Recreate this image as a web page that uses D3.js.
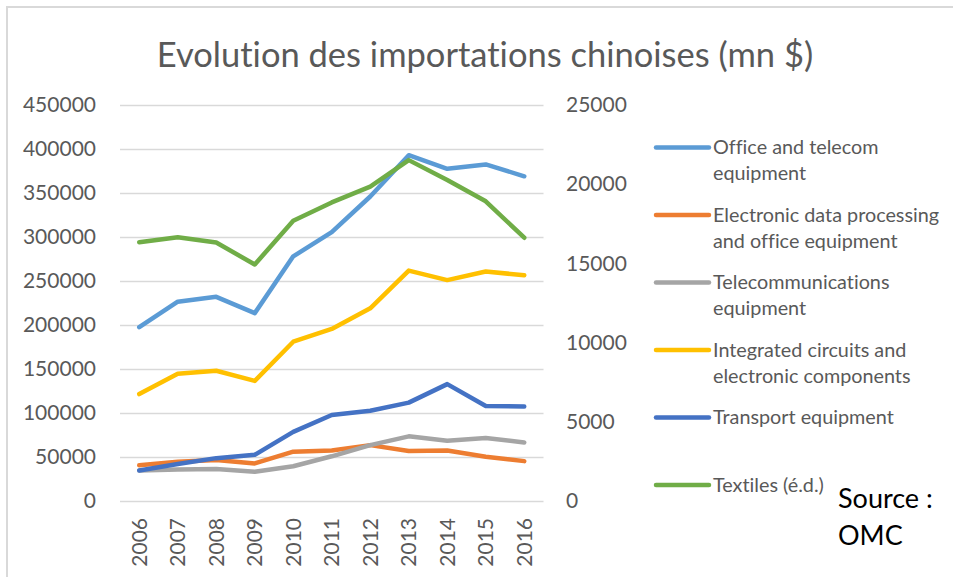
<!DOCTYPE html>
<html>
<head>
<meta charset="utf-8">
<script src="https://cdn.jsdelivr.net/npm/d3@7/dist/d3.min.js"></script>
<style>
  html, body { margin: 0; padding: 0; background: #fff; }
  svg { display: block; }
  text { font-family: Lato, "Open Sans", sans-serif; font-variant-ligatures: none; font-feature-settings: "liga" 0; }
</style>
</head>
<body>
<svg id="chart" width="953" height="577"></svg>
<script>
// Chinese imports by product group, millions of US$
const years = ["2006","2007","2008","2009","2010","2011","2012","2013","2014","2015","2016"];

const officeTelecom   = [197500, 226500, 232000, 213500, 278000, 305500, 346000, 393000, 377500, 382500, 369000];
const edpOffice       = [40500, 44500, 46500, 42700, 56000, 57500, 63500, 56800, 57300, 50300, 45300];
const telecomEquip    = [34800, 35800, 36400, 33300, 39500, 50800, 63500, 73500, 68500, 71500, 66600];
const integratedCirc  = [121500, 144500, 148000, 136500, 181000, 195500, 219000, 261800, 251000, 260800, 256500];
const transportEquip  = [34700, 42000, 48700, 52500, 78500, 97800, 102500, 111800, 132800, 108000, 107300];
// Textiles are read on the right-hand axis
const textiles        = [16340, 16650, 16320, 14930, 17690, 18850, 19850, 21520, 20260, 18920, 16620];

const leftTicks  = [0, 50000, 100000, 150000, 200000, 250000, 300000, 350000, 400000, 450000];
const rightTicks = [0, 5000, 10000, 15000, 20000, 25000];

const seriesNames = [
  ["Office and telecom", "equipment"],
  ["Electronic data processing", "and office equipment"],
  ["Telecommunications", "equipment"],
  ["Integrated circuits and", "electronic components"],
  ["Transport equipment"],
  ["Textiles (é.d.)"]
];

const title = "Evolution des importations chinoises (mn $)";
const sourceLines = ["Source :", "OMC"];

const series = [
  { values: officeTelecom,  color: "#5B9BD5", axis: "left" },
  { values: edpOffice,      color: "#ED7D31", axis: "left" },
  { values: telecomEquip,   color: "#A5A5A5", axis: "left" },
  { values: integratedCirc, color: "#FFC000", axis: "left" },
  { values: transportEquip, color: "#4472C4", axis: "left" },
  { values: textiles,       color: "#70AD47", axis: "right" }
];

const svg = d3.select("#chart");
const textColor = "#595959";

// outer frame (top and left edges)
svg.append("path")
  .attr("d", "M7,577 V7 H953")
  .attr("fill", "none")
  .attr("stroke", "#D9D9D9")
  .attr("stroke-width", 2);

const plot = { left: 120, right: 543.5, top: 105, bottom: 501 };

const x = d3.scaleBand()
  .domain(years)
  .range([plot.left, plot.right])
  .paddingInner(0)
  .paddingOuter(0);
const xc = d => x(d) + x.bandwidth() / 2;

const yL = d3.scaleLinear().domain([0, 450000]).range([plot.bottom, plot.top]);
const yR = d3.scaleLinear().domain([0, 25000]).range([plot.bottom, plot.top]);

// title
svg.append("text")
  .attr("x", 485)
  .attr("y", 67)
  .attr("text-anchor", "middle")
  .attr("fill", textColor)
  .style("font-size", "34.5px")
  .text(title);

// gridlines from the left axis
const grid = d3.axisLeft(yL)
  .tickValues(leftTicks)
  .tickSize(-(plot.right - plot.left))
  .tickFormat("");
svg.append("g")
  .attr("transform", `translate(${plot.left},0)`)
  .call(grid)
  .call(g => g.select(".domain").remove())
  .call(g => g.selectAll("line").attr("stroke", "#D9D9D9").attr("stroke-width", 1.5));

const axisFont = g => g.selectAll("text")
  .attr("fill", textColor)
  .style("font-size", "21px")
  .style("font-family", "Lato, sans-serif");

// left axis labels
const leftAxis = d3.axisLeft(yL)
  .tickValues(leftTicks)
  .tickSize(0)
  .tickPadding(0)
  .tickFormat(d3.format("d"));
svg.append("g")
  .attr("transform", "translate(96,0)")
  .call(leftAxis)
  .call(g => g.select(".domain").remove())
  .call(axisFont);

// right axis labels
const rightAxis = d3.axisRight(yR)
  .tickValues(rightTicks)
  .tickSize(0)
  .tickPadding(0)
  .tickFormat(d3.format("d"));
svg.append("g")
  .attr("transform", "translate(566,0)")
  .call(rightAxis)
  .call(g => g.select(".domain").remove())
  .call(axisFont);

// category axis, labels rotated
const xAxis = d3.axisBottom(x).tickSize(0).tickPadding(0);
svg.append("g")
  .attr("transform", `translate(0,${plot.bottom})`)
  .call(xAxis)
  .call(g => g.select(".domain").remove())
  .call(axisFont)
  .call(g => g.selectAll("text")
    .attr("text-anchor", "end")
    .attr("dy", "0.35em")
    .attr("transform", "translate(0,17) rotate(-90)"));

// series lines
series.forEach(s => {
  const yScale = s.axis === "left" ? yL : yR;
  const line = d3.line()
    .x((d, i) => xc(years[i]))
    .y(d => yScale(d));
  svg.append("path")
    .datum(s.values)
    .attr("d", line)
    .attr("fill", "none")
    .attr("stroke", s.color)
    .attr("stroke-width", 4.5)
    .attr("stroke-linecap", "round")
    .attr("stroke-linejoin", "round");
});

// legend
const legendTop = 147.5, legendStep = 67.5;
const legend = svg.append("g");
series.forEach((s, i) => {
  const ly = legendTop + i * legendStep;
  legend.append("line")
    .attr("x1", 656).attr("x2", 709)
    .attr("y1", ly).attr("y2", ly)
    .attr("stroke", s.color)
    .attr("stroke-width", 4.5)
    .attr("stroke-linecap", "round");
  const t = legend.append("text")
    .attr("x", 713)
    .attr("y", ly)
    .attr("fill", textColor)
    .style("font-size", "19.8px");
  seriesNames[i].forEach((ln, k) => {
    t.append("tspan")
      .attr("x", 713)
      .attr("dy", k === 0 ? "0.35em" : "26px")
      .text(ln);
  });
});

// source note
const src = svg.append("text")
  .attr("x", 838)
  .attr("fill", "#000")
  .style("font-size", "27px");
sourceLines.forEach((ln, k) => {
  src.append("tspan")
    .attr("x", 838)
    .attr("y", 508 + k * 37)
    .text(ln);
});
</script>
</body>
</html>
